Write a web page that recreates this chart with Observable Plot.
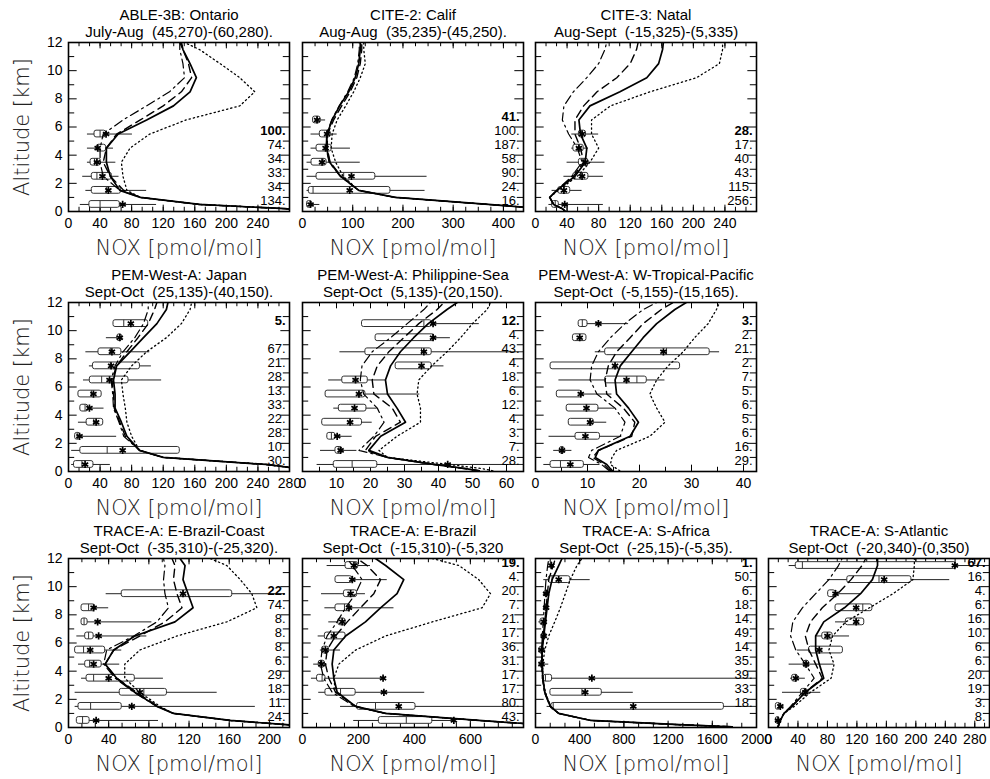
<!DOCTYPE html>
<html><head><meta charset="utf-8">
<script src="https://cdn.jsdelivr.net/npm/d3@7"></script>
<script src="https://cdn.jsdelivr.net/npm/@observablehq/plot@0.6"></script>
<style>
body{margin:0;background:#fff;}
#chart{position:relative;width:990px;height:779px;overflow:hidden;background:#fff;}
#chart svg{position:absolute;}
</style></head><body><div id="chart"></div>
<script>
// ---------- shared ----------
const modelAlt = [0.05,0.2,0.5,1,1.5,2.5,3.5,4.5,5.5,6.5,7.5,8.5,9.5,10.5,11.5,12];
const yTickLabels = [0,2,4,6,8,10,12];
// box rows: [altitude, count, low, q25, median, q75, high, mean]

// ---------- ABLE-3B ----------
const ableBoxes = [
 [5.5,100,24,33,40,47.6,81,47.6],[4.5,74,24,36,37,47.6,57,37],[3.5,34,24,28,33,41,60,36],
 [2.5,33,18,29.5,36,55,64,43],[1.5,34,22,29.5,48,66.5,99,50.5],[0.5,134,15,26.5,40,65,111.6,68.6]];
const ableSolid   = [300,275,166,91,65,53,48,48,63,99,133,154,162,154,145,143];
const ableDashed  = [300,275,166,91,70,53,44,48,61,91,120,143,156,152,145,141];
const ableDashDot = [300,275,166,91,65,44,40,40,44,69,99,128,147,145,141,141];
const ableDotted  = [300,275,166,91,74,69,67,78,103,149,217,236,217,192,166,147];
const ableTicks = [0,40,80,120,160,200,240];

// ---------- CITE-2 ----------
const cite2Boxes = [
 [6.5,41,21,21,29,36,46,29],[5.5,100,17,34.5,48,56,69,49],[4.5,187,17,28,45,58,95.5,46],
 [3.5,58,9,18,41,48,115,39],[2.5,90,9,28,82,145,248,97.5],[1.5,24,9,12.6,21,175,244,94],
 [0.5,16,9,9,15,19,34.5,16]];
const cite2Solid   = [520,480,370,185,112,76,54,48,49,59,74,92,105,112,115,115];
const cite2Dashed  = [520,480,370,185,112,77,55,49,50,62,78,95,108,115,118,118];
const cite2DashDot = [520,480,370,185,112,75,53,47,48,58,73,90,103,110,113,113];
const cite2Dotted  = [520,480,370,185,112,81,66,57,59,69,86,102,115,125,122,122];
const cite2Ticks = [0,100,200,300,400];

// ---------- CITE-3 ----------
const cite3Boxes = [
 [5.5,28,46,55,59,64,80,59],[4.5,17,46,48,55,61,67,55],[3.5,40,40,55,63,67,88,63],
 [2.5,43,36,48,57,67,86,59],[1.5,115,21,29,36,44,59,36],[0.5,256,17,21,25,29.5,86,37]];
const cite3Solid   = [37,34,23,18,27,50,63,65,57,55,69,107,141,156,161,162];
const cite3Dashed  = [37,34,23,18,27,48,61,57,50,50,61,78,103,120,128,130];
const cite3DashDot = [37,34,23,18,27,46,59,53,42,34,36,48,65,80,88,90];
const cite3Dotted  = [37,34,23,18,29,53,69,80,71,71,95,145,204,233,237,237];
const cite3Ticks = [0,40,80,120,160,200,240];

// ---------- PEM-West-A Japan ----------
const japanBoxes = [
 [10.5,5,57,57,70,101,101,79],[9.5,null,48,62,65,68,68,65],[8.5,67,22,38,53,67,103,55],
 [7.5,21,26.5,31,53,90.5,105,54],[6.5,28,19,27,42,76,118,52],[5.5,13,12.6,12.6,29,42,42,31.6],
 [4.5,33,15,15,21,25,45,26.5],[3.5,22,12.6,23,32,44,44,35],[2.5,28,8.4,8.4,11,15,61,14],
 [1.5,10,4,15,49,141,141,68.6],[0.5,30,4,7,17,31.6,53,21]];
const japanSolid   = [310,293,250,120,90,74,67,59,59,57,61,78,95,112,124,126];
const japanDashed  = [310,293,250,120,90,72,65,58,57,55,61,74,88,101,109,112];
const japanDashDot = [310,293,250,120,90,70,64,57,56,54,59,69,84,95,101,101];
const japanDotted  = [310,293,250,120,90,80,74,72,69,67,80,99,124,143,154,156];
const japanTicks = [0,40,80,120,160,200,240,280];

// ---------- PEM-West-A Philippine-Sea ----------
const philBoxes = [
 [10.5,12,17.5,17.5,35.7,38,52,38.4],[9.5,4,21.5,21.5,38.4,38.8,43.5,38.4],[8.5,43,11,18.5,35,38,70,35.7],
 [7.5,4,27.4,27.4,35,38,41.6,35],[6.5,18,7.7,11.7,15.6,19.2,24.4,15.6],[5.5,6,6.8,6.8,16.6,18.5,34.5,16.6],
 [4.5,12,9.2,10.7,15.3,18.8,22,15.3],[3.5,4,5.8,5.8,14,17.5,20.5,14],[2.5,3,7.3,7.3,8.5,9.7,14.6,10.2],
 [1.5,7,5.3,9.7,10.7,11.7,16,11.2],[0.5,28,4.3,9.2,14.6,22,70,42.7]];
const philSolid   = [52,48,38.6,25,19.5,23,30.3,27.8,25,24.4,25.9,28.8,32.7,37,42.5,45.5];
const philDashed  = [52,48,38.6,25,18.5,21.5,28.8,26.4,21,20.5,22,25.4,29.8,34.2,39.6,41.6];
const philDashDot = [52,48,38.6,25,16.6,21,24,22,18,17,17.5,20.5,25.9,30.8,35.7,37.6];
const philDotted  = [56,53,43,25,22.5,27.8,34.7,34.7,33.7,34.2,38,42.5,46.5,50,54.3,55.3];
const philTicks = [0,10,20,30,40,50,60];

// ---------- PEM-West-A W-Tropical-Pacific ----------
const wtpBoxes = [
 [10.5,3,8.3,8.3,9,10,17.9,12.1],[9.5,2,7.2,7.2,8.5,9.8,9.8,8.5],[8.5,21,11.5,13.4,25.2,33.5,35.4,24.6],
 [7.5,2,2.9,2.9,15.3,27.8,27.8,15.3],[6.5,7,4.5,13.4,19.5,21.4,24.9,17.5],[5.5,5,4.1,4.1,8.7,8.9,14.7,8.7],
 [4.5,6,6,6,9.8,12.1,15.3,9.8],[3.5,5,6.4,6.4,10.5,11.2,13.7,10.5],[2.5,6,2.6,7.7,9.6,12.4,16.6,9.6],
 [1.5,16,3.5,4.7,5.1,5.6,7,5.1],[0.5,29,1.6,2.9,4.8,9.3,12.4,6.7]];
const wtpSolid   = [14.8,14.4,13.7,11.5,12.1,18.2,19.8,17.9,15.6,15.3,16.3,18.5,20.7,23.3,26.8,29];
const wtpDashed  = [14.5,14,13.2,11,12.1,18.5,19.1,16.9,13.7,13.4,14,15.6,18.2,20.7,24.2,26.5];
const wtpDashDot = [14.2,13.7,12.7,10.2,10.8,16.3,17.2,15.3,11.8,10.5,10.8,12.1,14.4,17.2,20.7,23.3];
const wtpDotted  = [16.2,15.6,14.4,14.7,15.6,22,24.9,23.3,22,23.3,25.5,28.4,30.6,33.2,34.8,35.4];
const wtpTicks = [0,10,20,30,40];

// ---------- TRACE-A E-Brazil-Coast ----------
const ebcBoxes = [
 [9.5,22,37.5,53,114,163,216,114],[8.5,74,13,13,20,26.5,40,25],[7.5,8,13,13,15.5,19,83,29],
 [6.5,8,8.3,16.6,20,25,78,30],[5.5,8,6.6,6.6,15,36.5,53,21.6],[4.5,6,10,16.6,21,33,51,25],
 [3.5,29,13,18,25,66,94.5,40],[2.5,18,6.6,51,75,98,148,71],[1.5,11,6.6,10,22,53,186,63],
 [0.5,24,8.3,8.3,14,21,89.6,27.5]];
const ebcSolid   = [240,217,161,104.5,88,66,48,36.5,45,66,106,124,119,114,116,111];
const ebcDashed  = [240,217,161,104.5,89,68,48,36.5,45,71,96,113,108,104.5,106,103];
const ebcDashDot = [240,217,161,104.5,88,65,46.5,35,38,65,88,99.5,96,94.6,96,94.6];
const ebcDotted  = [240,217,161,104.5,91,71,56,56,71,108,157.6,187.5,182.5,171,157.6,141];
const ebcTicks = [0,40,80,120,160,200];

// ---------- TRACE-A E-Brazil ----------
const ebBoxes = [
 [11.5,19,88,154,190,199,243,184],[10.5,4,118,118,178,178,303,178],[9.5,20,68,148,172,195,225,172],
 [8.5,7,80,118,150,172,327,166],[7.5,21,94,128,142,154,154,142],[6.5,17,56,80,112,154,154,112],
 [5.5,36,64,70,82,94,136,82],[4.5,31,40,58,68,80,88,68],[3.5,17,32,52,70,82,288,288],
 [2.5,17,58,82,136,190,437,291],[1.5,80,136,195,261,404,790,344],[0.5,43,183,273,371,464,541,541]];
const ebSolid   = [900,850,630,297,190,124,112,106,112,154,225,279,338,362,297,261];
const ebDashed  = [900,850,630,297,190,118,94,82,88,118,160,207,255,279,231,195];
const ebDashDot = [900,850,630,297,185,106,76,64,70,88,124,154,190,213,178,160];
const ebDotted  = [900,850,630,297,190,118,112,130,190,297,464,642,672,630,559,464];
const ebTicks = [0,200,400,600];

// ---------- TRACE-A S-Africa ----------
const safBoxes = [
 [11.5,1,135,140,144,148,150,144],[10.5,50,75,120,150,315,495,210],[9.5,6,75,84,96,114,120,96],
 [8.5,18,75,84,96,105,120,96],[7.5,14,30,45,75,96,105,75],[6.5,49,45,60,75,96,105,75],
 [5.5,14,30,36,54,75,90,54],[4.5,35,30,45,54,75,120,54],[3.5,39,60,75,90,150,2100,510],
 [2.5,33,135,135,420,600,885,450],[1.5,18,105,144,160,1705,2100,885]];
const safSolid   = [1780,1300,500,210,135,84,66,60,60,75,90,105,120,150,210,240];
const safDashed  = [1780,1300,500,210,135,84,66,58,58,70,84,96,108,120,160,180];
const safDashDot = [1780,1300,500,210,130,80,63,55,55,62,70,78,86,95,110,120];
const safDotted  = [1780,1300,500,210,135,90,66,66,84,120,174,225,270,315,375,420];
const safTicks = [0,400,800,1200,1600,2000];

// ---------- TRACE-A S-Atlantic ----------
const satBoxes = [
 [11.5,67,28,37,46,255,310,253],[10.5,16,80,107,150,194,246,157],[9.5,4,81,81,91,91,125,91],
 [8.5,6,91,91,128,141,141,119],[7.5,16,91,105,119,130,130,119],[6.5,10,64,73,80,87,110,80],
 [5.5,6,39,55,69,101,101,69],[4.5,6,28,48,51,55,89,51],[3.5,20,30,32,37,40,50,37],
 [2.5,19,19,44,50,53,71,50],[1.5,3,10,10,14,16,21,16],[0.5,8,10,10,13,15,18,13]];
const satSolid   = [13,14,16,21,32,50,75,69,64,64,75,103,125,141,148,148];
const satDashed  = [13,14,16,21,31,50,73,64,55,50,57,73,94,112,127,132];
const satDashDot = [13,14,16,21,30,46,62,50,37,30,33,46,64,82,95,100];
const satDotted  = [13,14,16,21,35,57,85,89,82,87,105,137,169,196,198,198];
const satTicks = [0,40,80,120,160,200,240,280];

// ---------- panel definitions ----------
const panels = [
 {title:"ABLE-3B: Ontario", sub:"July-Aug  (45,270)-(60,280).", row:0,col:0, xmax:280, step:40, minor:3, ticks:ableTicks, boxes:ableBoxes, models:[ableSolid,ableDashed,ableDashDot,ableDotted]},
 {title:"CITE-2: Calif", sub:"Aug-Aug  (35,235)-(45,250).", row:0,col:1, xmax:440, step:100, minor:4, ticks:cite2Ticks, boxes:cite2Boxes, models:[cite2Solid,cite2Dashed,cite2DashDot,cite2Dotted]},
 {title:"CITE-3: Natal", sub:"Aug-Sept  (-15,325)-(5,335)", row:0,col:2, xmax:280, step:40, minor:3, ticks:cite3Ticks, boxes:cite3Boxes, models:[cite3Solid,cite3Dashed,cite3DashDot,cite3Dotted]},
 {title:"PEM-West-A: Japan", sub:"Sept-Oct  (25,135)-(40,150).", row:1,col:0, xmax:280, step:40, minor:3, ticks:japanTicks, boxes:japanBoxes, models:[japanSolid,japanDashed,japanDashDot,japanDotted]},
 {title:"PEM-West-A: Philippine-Sea", sub:"Sept-Oct  (5,135)-(20,150).", row:1,col:1, xmax:65, step:10, minor:2, ticks:philTicks, boxes:philBoxes, models:[philSolid,philDashed,philDashDot,philDotted]},
 {title:"PEM-West-A: W-Tropical-Pacific", sub:"Sept-Oct  (-5,155)-(15,165).", row:1,col:2, xmax:42.5, step:10, minor:2, ticks:wtpTicks, boxes:wtpBoxes, models:[wtpSolid,wtpDashed,wtpDashDot,wtpDotted]},
 {title:"TRACE-A: E-Brazil-Coast", sub:"Sept-Oct  (-35,310)-(-25,320).", row:2,col:0, xmax:220, step:40, minor:3, ticks:ebcTicks, boxes:ebcBoxes, models:[ebcSolid,ebcDashed,ebcDashDot,ebcDotted]},
 {title:"TRACE-A: E-Brazil", sub:"Sept-Oct  (-15,310)-(-5,320", row:2,col:1, xmax:790, step:200, minor:4, ticks:ebTicks, boxes:ebBoxes, models:[ebSolid,ebDashed,ebDashDot,ebDotted]},
 {title:"TRACE-A: S-Africa", sub:"Sept-Oct  (-25,15)-(-5,35).", row:2,col:2, xmax:2000, step:400, minor:3, ticks:safTicks, boxes:safBoxes, models:[safSolid,safDashed,safDashDot,safDotted]},
 {title:"TRACE-A: S-Atlantic", sub:"Sept-Oct  (-20,340)-(0,350)", row:2,col:3, xmax:300, step:40, minor:3, ticks:satTicks, boxes:satBoxes, models:[satSolid,satDashed,satDashDot,satDotted]}
];

const lineStyles = [
 {dash:null, w:1.7}, {dash:"8,5", w:1.4}, {dash:"9,4,2,4", w:1.2}, {dash:"1.3,3", w:1.3}
];

const colX = [68,302,535,768], rowY = [42,302,558];
const PW = 221, PH = 169;
const mL = 70, mR = 20, mT = 50, mB = 55;
const FONT = "'Liberation Sans', Arial, sans-serif";
const TFONT = "'DejaVu Sans', sans-serif";
const chart = document.getElementById("chart");

for (const p of panels) {
  const boxes = p.boxes.map(([alt,n,lo,q1,med,q3,hi,mean]) => ({alt,n,lo,q1,med,q3,hi,mean}));
  const topBox = boxes[0];
  const hb = 0.24;
  const minorTicks = d3.range(0, p.xmax + 1e-9, p.step / p.minor);
  const majorTicks = d3.range(0, p.xmax + 1e-9, p.step);
  const kmTicks = d3.range(0, 13);
  const tl = p.xmax * 0.028;
  const marks = [];
  // inward ticks (bottom/top/left/right)
  marks.push(Plot.ruleX(minorTicks, {x: d => d, y1: 0, y2: 0.3, stroke: "black"}));
  marks.push(Plot.ruleX(majorTicks, {x: d => d, y1: 0, y2: 0.45, stroke: "black"}));
  marks.push(Plot.ruleX(minorTicks, {x: d => d, y1: 11.7, y2: 12, stroke: "black"}));
  marks.push(Plot.ruleX(majorTicks, {x: d => d, y1: 11.55, y2: 12, stroke: "black"}));
  marks.push(Plot.ruleY(kmTicks, {y: d => d, x1: 0, x2: d => d % 2 === 0 ? tl * 1.4 : tl, stroke: "black"}));
  marks.push(Plot.ruleY(kmTicks, {y: d => d, x1: d => p.xmax - (d % 2 === 0 ? tl * 1.4 : tl), x2: p.xmax, stroke: "black"}));
  // box plots
  marks.push(Plot.ruleY(boxes, {y: "alt", x1: "lo", x2: "hi", stroke: "#222", strokeWidth: 1, clip: true}));
  marks.push(Plot.rect(boxes, {x1: "q1", x2: "q3", y1: d => d.alt - hb, y2: d => d.alt + hb, fill: "white", stroke: "#333", strokeWidth: 1, rx: 2, clip: true}));
  marks.push(Plot.ruleX(boxes, {x: "med", y1: d => d.alt - hb, y2: d => d.alt + hb, stroke: "#333", strokeWidth: 1, clip: true}));
  // model profiles
  p.models.forEach((vals, i) => {
    const rows = modelAlt.map((a, j) => ({alt: a, v: vals[j]}));
    const s = lineStyles[i];
    marks.push(Plot.line(rows, {x: "v", y: "alt", stroke: "black", strokeWidth: s.w, strokeDasharray: s.dash, clip: true}));
  });
  // means
  marks.push(Plot.dot(boxes, {x: "mean", y: "alt", symbol: "asterisk", r: 3.4, stroke: "black", strokeWidth: 1.7, clip: true}));
  // counts
  marks.push(Plot.text(boxes.filter(d => d !== topBox && d.n != null), {y: "alt", text: d => d.n + ".", frameAnchor: "right", textAnchor: "end", lineAnchor: "bottom", dx: -4, dy: 1, fontSize: 13, fontFamily: FONT}));
  marks.push(Plot.text([topBox], {y: "alt", text: d => d.n + ".", frameAnchor: "right", textAnchor: "end", lineAnchor: "bottom", dx: -4, dy: 1, fontSize: 13, fontWeight: "bold", fontFamily: FONT}));
  // frame
  marks.push(Plot.frame({stroke: "black", strokeWidth: 1.6}));
  // axes
  marks.push(Plot.axisX(p.ticks, {anchor: "bottom", tickSize: 0, tickPadding: 7, fontSize: 14, fontFamily: FONT, label: null, tickFormat: d3.format("d")}));
  if (p.col === 0) {
    marks.push(Plot.axisY(yTickLabels, {anchor: "left", tickSize: 0, tickPadding: 6, fontSize: 14, fontFamily: FONT, label: null, tickFormat: d3.format("d")}));
    marks.push(Plot.text(["Altitude [km]"], {frameAnchor: "left", textAnchor: "middle", lineAnchor: "middle", rotate: -90, dx: -46, fontSize: 21, fontWeight: 300, fontFamily: TFONT, fill: "#222"}));
  }
  marks.push(Plot.text(["NOX [pmol/mol]"], {frameAnchor: "bottom", lineAnchor: "middle", dy: 37, fontSize: 21, fontWeight: 300, fontFamily: TFONT, fill: "#222"}));
  // titles
  marks.push(Plot.text([p.title], {frameAnchor: "top", lineAnchor: "middle", dy: -27, fontSize: 15, fontFamily: FONT}));
  marks.push(Plot.text([p.sub], {frameAnchor: "top", lineAnchor: "middle", dy: -10, fontSize: 15, fontFamily: FONT}));

  const svg = Plot.plot({
    width: PW + mL + mR, height: PH + mT + mB,
    marginLeft: mL, marginRight: mR, marginTop: mT, marginBottom: mB,
    x: {domain: [0, p.xmax], label: null},
    y: {domain: [0, 12], label: null, axis: p.col === 0 ? undefined : null},
    style: {background: "transparent", overflow: "visible", fontFamily: FONT, maxWidth: "none"},
    marks
  });
  svg.style.left = (colX[p.col] - mL) + "px";
  svg.style.top = (rowY[p.row] - mT) + "px";
  chart.appendChild(svg);
}
</script>
</body></html>
